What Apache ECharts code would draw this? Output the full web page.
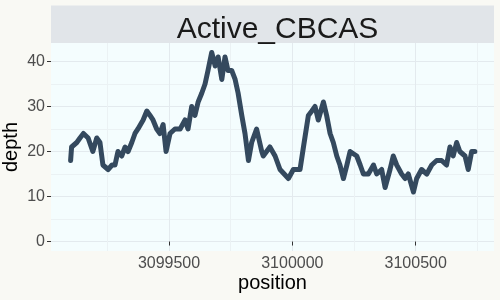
<!DOCTYPE html>
<html lang="en">
<head>
    <meta charset="UTF-8">
    <title>Active_CBCAS depth</title>
    <script src="https://cdn.jsdelivr.net/npm/echarts@6/dist/echarts.min.js"></script>
    <style>
        html, body { margin: 0; padding: 0; background: #f9f9f4; }
        #chart { width: 500px; height: 300px; }
    </style>
</head>
<body>
<div id="chart"></div>
<script>
    let positions = [
        3099101, 3099105, 3099126, 3099139, 3099153, 3099172, 3099191, 3099207, 3099220, 3099232,
        3099253, 3099269, 3099281, 3099293, 3099308, 3099322, 3099334, 3099349, 3099362, 3099374,
        3099395, 3099410, 3099423, 3099435, 3099450, 3099463, 3099476, 3099488, 3099504, 3099524,
        3099545, 3099565, 3099577, 3099592, 3099605, 3099618, 3099633, 3099646, 3099658, 3099673,
        3099687, 3099699, 3099714, 3099727, 3099739, 3099754, 3099768, 3099780, 3099795, 3099808,
        3099822, 3099835, 3099855, 3099876, 3099882, 3099909, 3099930, 3099950, 3099984, 3100004,
        3100031, 3100045, 3100065, 3100079, 3100092, 3100105, 3100126, 3100139, 3100153, 3100166,
        3100180, 3100193, 3100207, 3100221, 3100234, 3100261, 3100275, 3100288, 3100308, 3100329,
        3100342, 3100362, 3100376, 3100396, 3100409, 3100423, 3100443, 3100457, 3100470, 3100491,
        3100504, 3100524, 3100545, 3100565, 3100585, 3100605, 3100625, 3100639, 3100652, 3100666,
        3100679, 3100700, 3100713, 3100727, 3100740
    ];
    let depth = [
        18, 21, 22, 23, 24, 23, 20, 23, 22, 17,
        16, 17, 17, 20, 19, 21, 20, 22, 24, 25,
        27, 29, 28, 27, 25, 24, 26, 20, 24, 25,
        25, 27, 25, 30, 28, 31, 33, 35, 38, 42,
        39, 41, 36, 41, 38, 38, 36, 33, 28, 24,
        18, 22, 25, 20, 19, 21, 19, 16, 14, 16,
        16, 21, 28, 29, 30, 27, 31, 28, 24, 22,
        19, 17, 14, 17, 20, 19, 17, 15, 15, 17,
        15, 16, 12, 16, 19, 17, 15, 14, 15, 11,
        14, 16, 15, 17, 18, 18, 17, 21, 19, 22,
        20, 19, 16, 20, 20
    ];
    let xTicks = [3099500, 3100000, 3100500];
    let yTicks = [0, 10, 20, 30, 40];

    let dom = document.getElementById("chart");
    let myChart = echarts.init(dom);

    let points = positions.map(function (p, i) {
        return [p, depth[i]];
    });

    let tickStyle = {show: true, length: 4, lineStyle: {color: '#333333', width: 1}};

    myChart.setOption({
        backgroundColor: '#f9f9f4',
        animation: false,
        title: {
            text: 'Active_CBCAS',
            left: 272.5,
            top: 24.5,
            textAlign: 'center',
            textVerticalAlign: 'middle',
            textStyle: {
                fontFamily: 'Liberation Sans',
                fontSize: 30,
                fontWeight: 'normal',
                color: '#1a1a1a'
            }
        },
        graphic: [{
            type: 'rect',
            z: -1,
            shape: {x: 51, y: 5.5, width: 443, height: 37.5},
            style: {fill: '#e1e5e9'}
        }],
        grid: {
            left: 51, right: 6, top: 43, bottom: 49,
            outerBoundsMode: 'none',
            containLabel: false,
            show: true,
            backgroundColor: '#f4fdfe',
            borderWidth: 0
        },
        xAxis: {
            type: 'value',
            min: 3099021.5,
            max: 3100817.5,
            splitNumber: 4,
            name: 'position',
            nameLocation: 'middle',
            nameGap: 22,
            nameMoveOverlap: false,
            nameTextStyle: {fontFamily: 'Liberation Sans', fontSize: 20, color: '#000000'},
            axisLine: {show: false},
            axisTick: Object.assign({customValues: xTicks}, tickStyle),
            axisLabel: {
                customValues: xTicks,
                margin: 5,
                formatter: function (v) { return String(v); },
                fontFamily: 'Liberation Sans', fontSize: 16, color: '#4d4d4d'
            },
            splitLine: {show: true, lineStyle: {color: '#e3eaee', width: 1}},
            minorTick: {show: false, splitNumber: 2},
            minorSplitLine: {show: true, lineStyle: {color: '#ebf2f4', width: 1}}
        },
        yAxis: {
            type: 'value',
            min: -2.1,
            max: 44.1,
            name: 'depth',
            nameLocation: 'middle',
            nameRotate: 90,
            nameGap: 30,
            nameMoveOverlap: false,
            nameTextStyle: {fontFamily: 'Liberation Sans', fontSize: 20, color: '#000000'},
            axisLine: {show: false},
            axisTick: Object.assign({customValues: yTicks}, tickStyle),
            axisLabel: {
                customValues: yTicks,
                margin: 6,
                fontFamily: 'Liberation Sans', fontSize: 16, color: '#4d4d4d'
            },
            splitLine: {show: true, lineStyle: {color: '#e3eaee', width: 1}},
            minorTick: {show: false, splitNumber: 2},
            minorSplitLine: {show: true, lineStyle: {color: '#ebf2f4', width: 1}}
        },
        series: [{
            type: 'line',
            data: points,
            showSymbol: false,
            lineStyle: {color: '#34495e', width: 5, cap: 'round', join: 'round'}
        }]
    });
</script>
</body>
</html>
